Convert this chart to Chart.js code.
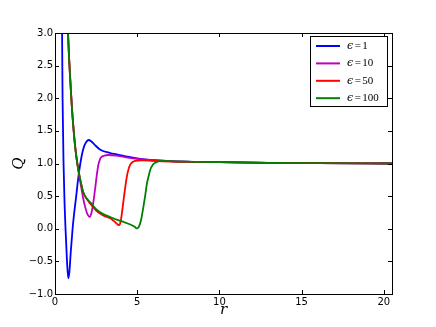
<!DOCTYPE html>
<html>
<head>
<meta charset="utf-8">
<script src="https://cdn.jsdelivr.net/npm/chart.js@4.4.0/dist/chart.umd.min.js"></script>
<style>
  html, body { margin: 0; padding: 0; background: #fff; }
  #wrap { width: 436px; height: 327px; }
</style>
</head>
<body>
<div id="wrap"><canvas id="qChart" width="436" height="327"></canvas></div>
<script>
// Q(r) for four values of epsilon
var labels = ["1", "10", "50", "100"];
var colors = ["#0000ff", "#bf00bf", "#ff0000", "#008000"];

var rEps1 = [0.40, 0.43, 0.46, 0.52, 0.58, 0.64, 0.73, 0.81, 0.88, 0.96, 1.07, 1.18, 1.29, 1.41, 1.54, 1.65, 1.78, 1.90, 2.05, 2.20, 2.40, 2.76, 3.36, 3.75, 4.50, 5.20, 6.00, 7.00, 8.50, 10, 13, 16, 20.5];
var qEps1 = [3.40, 3.00, 2.00, 1.00, 0.40, 0.00, -0.50, -0.76, -0.65, -0.35, 0.00, 0.27, 0.50, 0.77, 1.00, 1.15, 1.27, 1.33, 1.36, 1.34, 1.29, 1.21, 1.16, 1.14, 1.10, 1.07, 1.05, 1.035, 1.025, 1.02, 1.01, 1.005, 1.00];

var rEps10 = [0.76, 0.79, 0.86, 0.93, 1.03, 1.13, 1.23, 1.33, 1.46, 1.60, 1.72, 1.85, 1.98, 2.12, 2.25, 2.34, 2.43, 2.53, 2.63, 2.73, 2.83, 3.00, 3.24, 3.74, 4.20, 5.00, 6.00, 7.00, 8.50, 10, 13, 16, 20.5];
var qEps10 = [3.20, 3.00, 2.60, 2.28, 1.85, 1.52, 1.25, 1.04, 0.83, 0.63, 0.46, 0.32, 0.22, 0.18, 0.28, 0.42, 0.59, 0.80, 0.97, 1.06, 1.10, 1.12, 1.13, 1.12, 1.10, 1.07, 1.05, 1.035, 1.025, 1.02, 1.01, 1.005, 1.00];

var rEps50 = [0.76, 0.79, 0.86, 0.93, 1.03, 1.13, 1.23, 1.33, 1.46, 1.60, 1.72, 1.90, 2.16, 2.50, 2.96, 3.36, 3.57, 3.75, 3.87, 3.95, 4.05, 4.17, 4.27, 4.37, 4.47, 4.57, 4.70, 4.88, 5.30, 6.00, 7.00, 8.50, 10, 13, 16, 20.5];
var qEps50 = [3.20, 3.00, 2.60, 2.28, 1.85, 1.52, 1.25, 1.05, 0.85, 0.68, 0.56, 0.47, 0.38, 0.28, 0.20, 0.16, 0.12, 0.08, 0.055, 0.07, 0.20, 0.44, 0.63, 0.80, 0.91, 0.98, 1.02, 1.04, 1.05, 1.04, 1.03, 1.025, 1.02, 1.01, 1.005, 1.00];

var rEps100 = [0.76, 0.79, 0.86, 0.93, 1.03, 1.13, 1.23, 1.33, 1.46, 1.60, 1.72, 1.90, 2.16, 2.50, 2.96, 3.36, 3.75, 4.17, 4.58, 4.85, 4.98, 5.10, 5.25, 5.38, 5.50, 5.59, 5.70, 5.79, 5.95, 6.09, 6.35, 6.60, 7.00, 8.50, 10, 13, 16, 20.5];
var qEps100 = [3.20, 3.00, 2.60, 2.28, 1.85, 1.52, 1.25, 1.05, 0.85, 0.68, 0.56, 0.47, 0.40, 0.30, 0.22, 0.18, 0.14, 0.105, 0.065, 0.03, 0.005, 0.03, 0.15, 0.34, 0.53, 0.69, 0.81, 0.90, 0.98, 1.01, 1.035, 1.04, 1.035, 1.025, 1.02, 1.01, 1.005, 1.00];

var xTicks = [0, 5, 10, 15, 20];
var yTicks = [-1.0, -0.5, 0.0, 0.5, 1.0, 1.5, 2.0, 2.5, 3.0];

function pts(rs, qs) {
    return rs.map(function (r, i) { return { x: r, y: qs[i] }; });
}

var series = [[rEps1, qEps1], [rEps10, qEps10], [rEps50, qEps50], [rEps100, qEps100]];

// frame, inward ticks and the boxed legend, matplotlib style
var framePlugin = {
    id: 'frame',
    afterDatasetsDraw: function (chart) {
        var ctx = chart.ctx, a = chart.chartArea;
        var xs = chart.scales.x, ys = chart.scales.y;
        ctx.save();
        ctx.strokeStyle = "#000";
        ctx.lineWidth = 1;
        ctx.beginPath();
        xTicks.forEach(function (v) {
            var px = Math.round(xs.getPixelForValue(v)) + 0.5;
            ctx.moveTo(px, a.bottom); ctx.lineTo(px, a.bottom - 4);
            ctx.moveTo(px, a.top); ctx.lineTo(px, a.top + 4);
        });
        yTicks.forEach(function (v) {
            var py = Math.round(ys.getPixelForValue(v)) + 0.5;
            ctx.moveTo(a.left, py); ctx.lineTo(a.left + 4, py);
            ctx.moveTo(a.right, py); ctx.lineTo(a.right - 4, py);
        });
        ctx.stroke();
        ctx.strokeRect(Math.round(a.left) + 0.5, Math.round(a.top) + 0.5,
            Math.round(a.right - a.left), Math.round(a.bottom - a.top));

        // legend
        var lx = 310.5, ly = 36.5, lw = 77, lh = 70;
        ctx.fillStyle = "#fff";
        ctx.fillRect(lx, ly, lw, lh);
        ctx.strokeRect(lx, ly, lw, lh);
        ctx.textBaseline = "middle";
        chart.data.datasets.forEach(function (ds, i) {
            var y = 46 + i * 17.4;
            ctx.strokeStyle = ds.borderColor;
            ctx.lineWidth = 2;
            ctx.beginPath();
            ctx.moveTo(316, y); ctx.lineTo(340, y);
            ctx.stroke();
            ctx.fillStyle = "#000";
            ctx.font = "italic 11px 'DejaVu Serif'";
            ctx.fillText("\u03f5", 347, y);
            var w = ctx.measureText("\u03f5").width;
            ctx.font = "11px 'Liberation Serif'";
            ctx.fillText("=", 347 + w + 1.5, y);
            var w2 = ctx.measureText("=").width;
            ctx.fillText(labels[i], 347 + w + w2 + 3, y);
        });
        ctx.restore();
    }
};

new Chart("qChart", {
    type: "line",
    data: {
        datasets: series.map(function (s, i) {
            return {
                label: "\u03f5=" + labels[i],
                data: pts(s[0], s[1]),
                borderColor: colors[i],
                backgroundColor: colors[i],
                borderWidth: 1.8,
                pointRadius: 0,
                fill: false,
                cubicInterpolationMode: "monotone",
                order: 3 - i
            };
        })
    },
    options: {
        responsive: false,
        animation: false,
        layout: { padding: { top: 33, right: 44, left: 0, bottom: 0 } },
        plugins: {
            legend: { display: false },
            tooltip: { enabled: false }
        },
        scales: {
            x: {
                type: "linear",
                min: 0,
                max: 20.5,
                grid: { display: false, drawTicks: false },
                border: { display: false },
                afterBuildTicks: function (s) { s.ticks = xTicks.map(function (v) { return { value: v }; }); },
                afterFit: function (s) { s.height = 33; },
                ticks: {
                    color: "#000",
                    padding: 2,
                    maxRotation: 0,
                    font: { family: "DejaVu Sans", size: 10 }
                },
                title: {
                    display: true,
                    text: "r",
                    color: "#000",
                    padding: { top: 0, bottom: 8 },
                    font: { family: "DejaVu Serif", style: "italic", size: 15 }
                }
            },
            y: {
                type: "linear",
                min: -1,
                max: 3,
                grid: { display: false, drawTicks: false },
                border: { display: false },
                afterBuildTicks: function (s) { s.ticks = yTicks.map(function (v) { return { value: v }; }); },
                afterFit: function (s) { s.width = 55; },
                ticks: {
                    color: "#000",
                    padding: 2,
                    font: { family: "DejaVu Sans", size: 10 },
                    callback: function (v) { return (v < 0 ? "\u2212" : "") + Math.abs(v).toFixed(1); }
                },
                title: {
                    display: true,
                    text: "Q",
                    color: "#000",
                    padding: { top: 10, bottom: 0 },
                    font: { family: "DejaVu Serif", style: "italic", size: 15 }
                }
            }
        }
    },
    plugins: [framePlugin]
});
</script>
</body>
</html>
